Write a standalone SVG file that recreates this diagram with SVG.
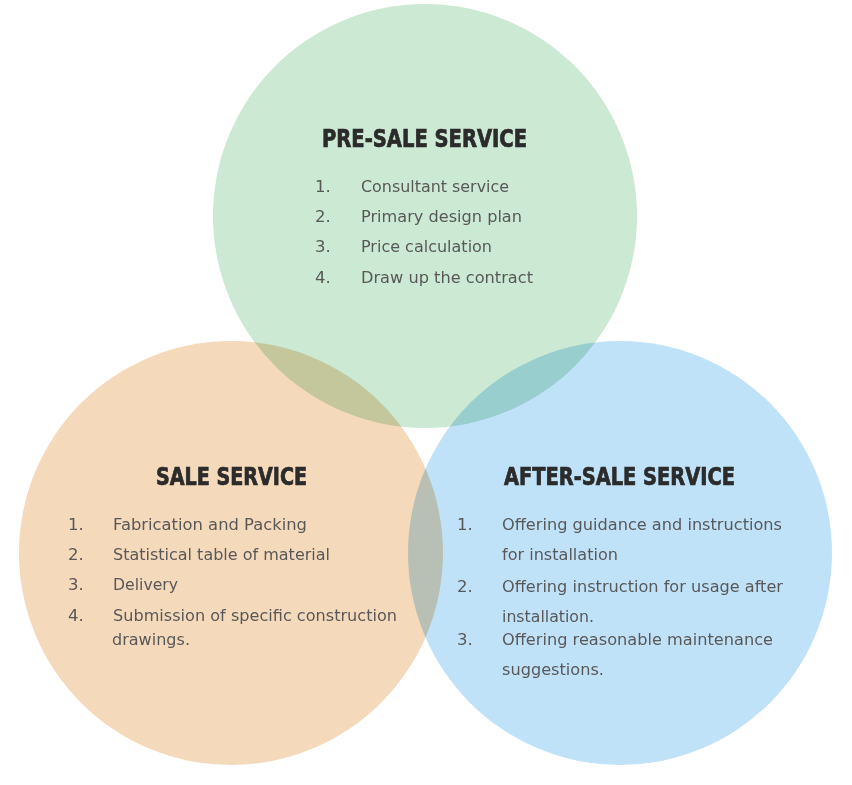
<svg xmlns="http://www.w3.org/2000/svg" width="852" height="785" viewBox="0 0 852 785">
  <style>
    .circle { mix-blend-mode: multiply; }
    .title { font-family: "DejaVu Sans Condensed", "Liberation Sans Narrow", "Liberation Sans", sans-serif; font-weight: bold; font-size: 24px; fill: #2b2b2b; stroke: #2b2b2b; stroke-width: 0.7px; }
    .item { font-family: "DejaVu Sans", "Liberation Sans", sans-serif; font-size: 16.5px; fill: #585858; }
  </style>
  <rect x="0" y="0" width="852" height="785" fill="#ffffff"/>
  <g id="circles">
    <circle id="circle-presale" class="circle" cx="425" cy="216" r="212" fill="#cce9d3"/>
    <circle id="circle-sale" class="circle" cx="231" cy="553" r="212" fill="#f5d9bb"/>
    <circle id="circle-aftersale" class="circle" cx="620" cy="553" r="212" fill="#c0e2f9"/>
  </g>
  <g id="presale">
    <text class="title" x="322" y="147" textLength="205" lengthAdjust="spacingAndGlyphs">PRE-SALE SERVICE</text>
    <text class="item" x="315" y="192">1.</text>
    <text class="item" x="361" y="192" textLength="148" lengthAdjust="spacingAndGlyphs">Consultant service</text>
    <text class="item" x="315" y="222">2.</text>
    <text class="item" x="361" y="222" textLength="161" lengthAdjust="spacingAndGlyphs">Primary design plan</text>
    <text class="item" x="315" y="252">3.</text>
    <text class="item" x="361" y="252" textLength="131" lengthAdjust="spacingAndGlyphs">Price calculation</text>
    <text class="item" x="315" y="283">4.</text>
    <text class="item" x="361" y="283" textLength="172" lengthAdjust="spacingAndGlyphs">Draw up the contract</text>
  </g>
  <g id="sale">
    <text class="title" x="156" y="485" textLength="151" lengthAdjust="spacingAndGlyphs">SALE SERVICE</text>
    <text class="item" x="68" y="530">1.</text>
    <text class="item" x="113" y="530" textLength="194" lengthAdjust="spacingAndGlyphs">Fabrication and Packing</text>
    <text class="item" x="68" y="560">2.</text>
    <text class="item" x="113" y="560" textLength="217" lengthAdjust="spacingAndGlyphs">Statistical table of material</text>
    <text class="item" x="68" y="590">3.</text>
    <text class="item" x="113" y="590" textLength="65" lengthAdjust="spacingAndGlyphs">Delivery</text>
    <text class="item" x="68" y="621">4.</text>
    <text class="item" x="113" y="621" textLength="284" lengthAdjust="spacingAndGlyphs">Submission of specific construction</text>
    <text class="item" x="112" y="645" textLength="78" lengthAdjust="spacingAndGlyphs">drawings.</text>
  </g>
  <g id="aftersale">
    <text class="title" x="504" y="485" textLength="231" lengthAdjust="spacingAndGlyphs">AFTER-SALE SERVICE</text>
    <text class="item" x="457" y="530">1.</text>
    <text class="item" x="502" y="530" textLength="280" lengthAdjust="spacingAndGlyphs">Offering guidance and instructions</text>
    <text class="item" x="502" y="560" textLength="116" lengthAdjust="spacingAndGlyphs">for installation</text>
    <text class="item" x="457" y="592">2.</text>
    <text class="item" x="502" y="592" textLength="281" lengthAdjust="spacingAndGlyphs">Offering instruction for usage after</text>
    <text class="item" x="502" y="622" textLength="92" lengthAdjust="spacingAndGlyphs">installation.</text>
    <text class="item" x="457" y="645">3.</text>
    <text class="item" x="502" y="645" textLength="271" lengthAdjust="spacingAndGlyphs">Offering reasonable maintenance</text>
    <text class="item" x="502" y="675" textLength="102" lengthAdjust="spacingAndGlyphs">suggestions.</text>
  </g>
</svg>
